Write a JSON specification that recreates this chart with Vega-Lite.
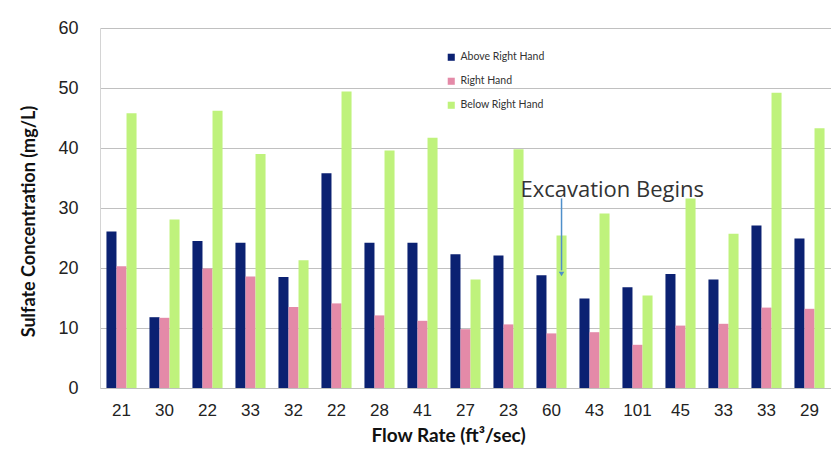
{
  "$schema": "https://vega.github.io/schema/vega-lite/v6.json",
  "width": 731,
  "height": 360,
  "autosize": {"type": "none"},
  "padding": {"left": 100, "top": 28, "right": 0, "bottom": 71},
  "background": "white",
  "config": {"view": {"stroke": null}},
  "data": {
    "values": [
      {"idx": 1, "flow": "21", "Above Right Hand": 26.1, "Right Hand": 20.3, "Below Right Hand": 45.8},
      {"idx": 2, "flow": "30", "Above Right Hand": 11.8, "Right Hand": 11.7, "Below Right Hand": 28.1},
      {"idx": 3, "flow": "22", "Above Right Hand": 24.5, "Right Hand": 19.9, "Below Right Hand": 46.2},
      {"idx": 4, "flow": "33", "Above Right Hand": 24.2, "Right Hand": 18.6, "Below Right Hand": 39.0},
      {"idx": 5, "flow": "32", "Above Right Hand": 18.5, "Right Hand": 13.5, "Below Right Hand": 21.3},
      {"idx": 6, "flow": "22", "Above Right Hand": 35.8, "Right Hand": 14.1, "Below Right Hand": 49.4},
      {"idx": 7, "flow": "28", "Above Right Hand": 24.2, "Right Hand": 12.1, "Below Right Hand": 39.6},
      {"idx": 8, "flow": "41", "Above Right Hand": 24.2, "Right Hand": 11.2, "Below Right Hand": 41.7},
      {"idx": 9, "flow": "27", "Above Right Hand": 22.3, "Right Hand": 9.8, "Below Right Hand": 18.1},
      {"idx": 10, "flow": "23", "Above Right Hand": 22.1, "Right Hand": 10.6, "Below Right Hand": 39.8},
      {"idx": 11, "flow": "60", "Above Right Hand": 18.8, "Right Hand": 9.1, "Below Right Hand": 25.4},
      {"idx": 12, "flow": "43", "Above Right Hand": 14.9, "Right Hand": 9.3, "Below Right Hand": 29.1},
      {"idx": 13, "flow": "101", "Above Right Hand": 16.8, "Right Hand": 7.2, "Below Right Hand": 15.4},
      {"idx": 14, "flow": "45", "Above Right Hand": 19.0, "Right Hand": 10.4, "Below Right Hand": 31.6},
      {"idx": 15, "flow": "33", "Above Right Hand": 18.1, "Right Hand": 10.7, "Below Right Hand": 25.7},
      {"idx": 16, "flow": "33", "Above Right Hand": 27.1, "Right Hand": 13.4, "Below Right Hand": 49.2},
      {"idx": 17, "flow": "29", "Above Right Hand": 24.9, "Right Hand": 13.2, "Below Right Hand": 43.3}
    ]
  },
  "layer": [
    {
      "transform": [{"fold": ["Above Right Hand", "Right Hand", "Below Right Hand"], "as": ["series", "value"]}],
      "mark": {"type": "bar"},
      "encoding": {
        "x": {
          "field": "idx",
          "type": "ordinal",
          "scale": {"paddingInner": 0.3, "paddingOuter": 0.15},
          "axis": {
            "title": "Flow Rate (ft³/sec)",
            "labelExpr": "split('21,30,22,33,32,22,28,41,27,23,60,43,101,45,33,33,29', ',')[datum.value - 1]",
            "labelAngle": 0,
            "labelFont": "Liberation Sans",
            "labelFontSize": 17,
            "labelColor": "#222222",
            "labelPadding": 14,
            "ticks": false,
            "domainColor": "#bfbfbf",
            "titleFont": "Lato",
            "titleFontSize": 19,
            "titleFontWeight": "bold",
            "titleColor": "#111111",
            "titlePadding": 8,
            "titleX": 348
          }
        },
        "xOffset": {
          "field": "series",
          "type": "nominal",
          "scale": {"domain": ["Above Right Hand", "Right Hand", "Below Right Hand"], "paddingInner": 0, "paddingOuter": 0}
        },
        "y": {
          "field": "value",
          "type": "quantitative",
          "scale": {"domain": [0, 60], "nice": false},
          "axis": {
            "title": "Sulfate Concentration (mg/L)",
            "values": [0, 10, 20, 30, 40, 50, 60],
            "ticks": false,
            "labelPadding": 22,
            "labelFont": "Liberation Sans",
            "labelFontSize": 18,
            "labelColor": "#222222",
            "gridColor": "#c0c0c0",
            "domainColor": "#d4d4d4",
            "titleFont": "Lato",
            "titleFontSize": 18,
            "titleFontWeight": "bold",
            "titleColor": "#111111",
            "titleX": -62,
            "titleY": 193
          }
        },
        "color": {
          "field": "series",
          "type": "nominal",
          "scale": {
            "domain": ["Above Right Hand", "Right Hand", "Below Right Hand"],
            "range": ["#0b2172", "#e48aa8", "#bff27c"]
          },
          "legend": {
            "orient": "none",
            "legendX": 346,
            "legendY": 24,
            "title": null,
            "symbolType": "square",
            "symbolSize": 50,
            "symbolStrokeWidth": 0,
            "labelFont": "Lato",
            "labelFontSize": 10.5,
            "labelColor": "#333333",
            "rowPadding": 13
          }
        }
      }
    },
    {
      "data": {"values": [{"idx": 11, "series": "Below Right Hand", "top": 31.6, "bottom": 19.6}]},
      "mark": {"type": "rule", "color": "#4f8fca", "strokeWidth": 1.5},
      "encoding": {
        "x": {"field": "idx", "type": "ordinal"},
        "xOffset": {"field": "series", "type": "nominal"},
        "y": {"field": "top", "type": "quantitative"},
        "y2": {"field": "bottom"}
      }
    },
    {
      "data": {"values": [{"idx": 11, "series": "Below Right Hand", "tip": 19.0}]},
      "mark": {"type": "point", "shape": "triangle-down", "filled": true, "size": 30, "color": "#4f8fca", "opacity": 1},
      "encoding": {
        "x": {"field": "idx", "type": "ordinal"},
        "xOffset": {"field": "series", "type": "nominal"},
        "y": {"field": "tip", "type": "quantitative"}
      }
    },
    {
      "data": {"values": [{"idx": 11, "series": "Above Right Hand", "label": "Excavation Begins", "pos": 31.9}]},
      "mark": {"type": "text", "align": "left", "baseline": "alphabetic", "dx": -21, "font": "Open Sans", "fontSize": 22, "color": "#333333"},
      "encoding": {
        "x": {"field": "idx", "type": "ordinal"},
        "xOffset": {"field": "series", "type": "nominal"},
        "y": {"field": "pos", "type": "quantitative"},
        "text": {"field": "label"}
      }
    }
  ]
}
